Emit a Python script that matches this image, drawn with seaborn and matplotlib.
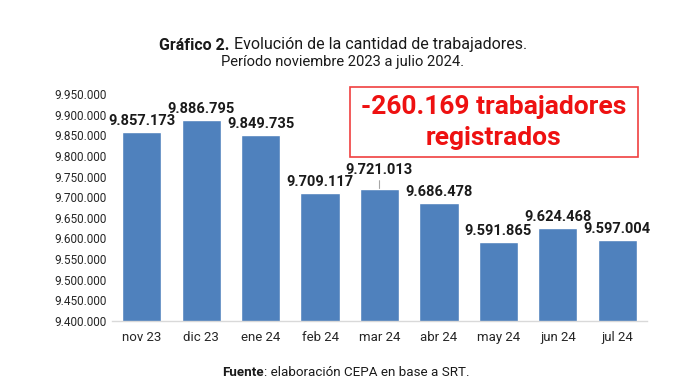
import matplotlib
matplotlib.use("Agg")
import matplotlib.pyplot as plt
import seaborn as sns
import pandas as pd
import numpy as np
from matplotlib.ticker import FuncFormatter, FixedLocator

months = ["nov 23", "dic 23", "ene 24", "feb 24", "mar 24", "abr 24", "may 24", "jun 24", "jul 24"]
workers = [9857173, 9886795, 9849735, 9709117, 9721013, 9686478, 9591865, 9624468, 9597004]
yticks = list(range(9400000, 9950001, 50000))
title_bold = "Gráfico 2."
title_rest = " Evolución de la cantidad de trabajadores."
subtitle = "Período noviembre 2023 a julio 2024."
source_bold = "Fuente"
source_rest = ": elaboración CEPA en base a SRT."
box_line1 = "-260.169 trabajadores"
box_line2 = "registrados"

sns.set_theme(style="white")
plt.rcParams["font.family"] = ["Roboto", "DejaVu Sans"]

df = pd.DataFrame({"mes": months, "trabajadores": workers})

fig = plt.figure(figsize=(6.76, 3.84), dpi=100)
ax = fig.add_axes([112/676, 1-321/384, 535/676, 227/384])

sns.barplot(data=df, x="mes", y="trabajadores", color="#4f81bd", saturation=1,
            width=0.66, ax=ax)

ax.set_ylim(9400000, 9950000)
ax.set_xlim(-0.5, len(months)-0.5)
ax.yaxis.set_major_locator(FixedLocator(yticks))
def fmt(v, pos):
    return f"{int(round(v)):,}".replace(",", ".")
ax.yaxis.set_major_formatter(FuncFormatter(fmt))
ax.set_xlabel("")
ax.set_ylabel("")
for s in ["top", "right", "left"]:
    ax.spines[s].set_visible(False)
ax.spines["bottom"].set_color("#d9d9d9")
ax.spines["bottom"].set_linewidth(1)
ax.tick_params(axis="y", length=0, labelsize=8.5, colors="#262626", pad=4)
ax.tick_params(axis="x", which="major", length=0, labelsize=9.5, colors="#262626", pad=7)
ax.set_xticks(np.arange(-0.5, len(months), 1.0), minor=True)
ax.tick_params(axis="x", which="minor", length=5, color="#d9d9d9", width=1, direction="out")
ax.grid(False)

for i, v in enumerate(workers):
    if months[i] == "mar 24":
        ax.annotate(fmt(v, None), xy=(i, v), xytext=(0, 8), textcoords="offset points",
                    ha="center", va="bottom", fontsize=10.5, fontweight="bold", color="#1a1a1a",
                    arrowprops=dict(arrowstyle="-", color="#a6a6a6", lw=0.8, shrinkA=0, shrinkB=0))
    else:
        ax.annotate(fmt(v, None), xy=(i, v), xytext=(0, 3), textcoords="offset points",
                    ha="center", va="bottom", fontsize=10.5, fontweight="bold", color="#1a1a1a")

# red box
fig.patches.append(plt.Rectangle((350/676, 1-157/384), 288/676, 70/384, transform=fig.transFigure,
                                 fill=False, edgecolor="#f04040", linewidth=1.2))
fig.text(494/676, 1-107/384, box_line1, ha="center", va="center", fontsize=19,
         fontweight="bold", color="#ee1111")
fig.text(494/676, 1-138/384, box_line2, ha="center", va="center", fontsize=19,
         fontweight="bold", color="#ee1111")

renderer = fig.canvas.get_renderer()

def mixed(y, bold, rest, size, cx):
    t1 = fig.text(0, y, bold, fontsize=size, fontweight="bold", color="#1a1a1a", va="center", ha="left")
    t2 = fig.text(0, y, rest, fontsize=size, color="#1a1a1a", va="center", ha="left")
    w1 = t1.get_window_extent(renderer).width
    w2 = t2.get_window_extent(renderer).width
    x0 = cx - (w1 + w2) / 2
    t1.set_x(x0 / 676)
    t2.set_x((x0 + w1) / 676)

mixed(1-45/384, title_bold, title_rest, 11.5, 343)
fig.text(343/676, 1-62/384, subtitle, ha="center", va="center", fontsize=10.6, color="#1a1a1a")
mixed(1-373/384, source_bold, source_rest, 9.6, 346)

fig.savefig("out.png", dpi=100)
